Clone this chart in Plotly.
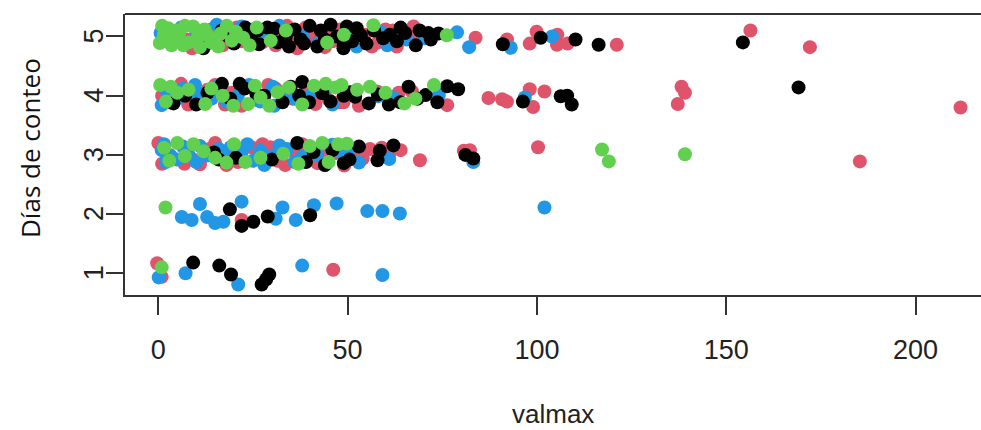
import plotly.graph_objects as go

# Data: (valmax, jittered day) per colour group
red_x = [7.5, 8.9, 20.7, 31.9, 31.0, 36.7, 38.9, 43.8, 54.6, 56.4, 63.0, 67.4, 69.6, 83.8, 92.1, 98.1, 99.9, 105.4, 105.3, 108.1, 121.1, 156.4, 172.1,
         3, 12, 25, 27.5, 34, 40, 46, 48, 58, 60, 45,
         14, 17, 22, 29, 35, 41, 44, 52, 62, 66,
         4.9, 6, 7.9, 17.6, 19.4, 26, 35.4, 41.5, 47.7, 48.9, 57.8, 63.5, 67.0, 76.3, 87.2, 90.8, 92.1, 98.1, 99, 102, 138.2, 139.1, 137.2, 211.9, 1, 13, 31,
         3.5, 10, 15, 22, 29, 33, 39, 45, 53,
         0, 1, 7.3, 6.9, 11, 18, 24.6, 26.5, 29.6, 33.5, 36, 40, 44, 47, 49.1, 52.3, 55.9, 59, 69.1, 80.7, 82.3, 100.3, 185.3, 15, 21,
         3, 9, 13.5, 20, 27.5, 31.5, 38, 42, 45, 54, 61, 64,
         22,
         -0.3, 0.9, 46.2]
red_y = [4.95, 4.8, 5.15, 5.05, 4.85, 4.8, 5.15, 4.85, 5.03, 4.83, 4.83, 5.17, 5.0, 4.98, 4.95, 4.88, 5.08, 5.03, 4.86, 4.88, 4.86, 5.10, 4.82,
         5.05, 4.92, 5.0, 4.9, 5.18, 4.95, 4.92, 5.12, 4.9, 5.12, 5.0,
         5.12, 4.85, 4.92, 5.05, 4.95, 5.05, 4.82, 4.95, 5.1, 4.97,
         4.03, 4.2, 3.85, 3.85, 4.05, 3.93, 3.95, 3.86, 3.89, 3.89, 4.07, 4.05, 4.07, 3.84, 3.96, 3.94, 3.9, 4.11, 3.81, 4.07, 4.15, 4.05, 3.86, 3.8, 4.0, 4.1, 4.12,
         3.88, 3.92, 4.18, 3.83, 4.18, 4.02, 4.1, 3.93, 3.83,
         3.2, 2.85, 3.05, 2.85, 2.84, 2.83, 3.13, 2.99, 3.13, 2.83, 3.05, 2.99, 3.13, 3.03, 2.82, 3.05, 3.1, 3.12, 2.91, 3.07, 3.08, 3.13, 2.89, 3.2, 2.88,
         3.0, 2.93, 3.1, 3.02, 3.18, 2.9, 3.18, 2.86, 2.95, 2.94, 3.03, 3.08,
         1.9,
         1.17, 0.94, 1.06]

blue_x = [0.6, 15.4, 19.5, 38, 49.8, 52.4, 58.6, 65.6, 70.4, 78.9, 82.1, 93.1, 104, 10, 28, 48, 22,
          6, 13, 25, 32, 42, 60.5,
          0.9, 9.7, 10.6, 14.1, 15.4, 30.2, 30.6, 74.1, 58, 96.8, 2, 5, 21, 27, 36, 44,
          6.5, 12, 18, 24, 33, 40, 46, 62,
          0.9, 3.3, 5, 8, 12.9, 18.5, 19.1, 22, 28, 30.4, 34, 38, 40.4, 44, 48, 50, 61, 83.2, 1.5, 11, 25,
          2, 6.5, 10, 16, 23.5, 27, 32, 36, 42, 46, 53,
          6.2, 8.8, 11, 12.9, 15, 17.2, 22, 31, 32.8, 36.3, 41.1, 47.1, 55.2, 59.2, 63.8, 102,
          0.1, 7.2, 21.1, 38, 59.2]
blue_y = [5.06, 5.2, 4.96, 5.0, 5.12, 4.83, 5.08, 4.95, 4.97, 5.07, 4.82, 4.81, 5.0, 5.08, 4.97, 4.97, 5.17,
          5.15, 4.88, 5.12, 5.18, 4.88, 4.85,
          3.84, 4.18, 3.98, 3.95, 4.15, 4.15, 3.83, 4.01, 3.99, 3.97, 4.1, 3.95, 4.0, 3.9, 3.95, 4.1,
          4.12, 4.02, 3.9, 4.18, 3.93, 4.0, 3.85, 3.97,
          3.08, 2.98, 2.92, 3.0, 2.99, 2.95, 3.13, 3.05, 2.83, 2.99, 3.1, 2.97, 3.08, 2.83, 3.06, 3.02, 2.93, 2.88, 3.18, 3.15, 2.9,
          2.88, 3.14, 2.88, 3.1, 3.18, 3.07, 3.16, 2.88, 3.0, 3.17, 2.87,
          1.95, 1.9, 2.17, 1.95, 1.85, 1.87, 2.21, 1.92, 2.11, 1.9, 2.15, 2.18, 2.05, 2.05, 2.01, 2.11,
          0.93, 1.0, 0.81, 1.13, 0.97]

black_x = [11.9, 16.8, 18.6, 24.5, 26.2, 26.6, 28.8, 30.6, 33.7, 34.5, 37.6, 42.9, 42.0, 45.5, 47.2, 49.0, 51.2, 49.8, 48.9, 52.4, 59.4, 61.2, 65.2, 71.3, 91.0, 101.0, 110.2, 116.3, 154.4, 40, 36, 55, 63, 68, 72,
           20, 23, 31.5, 38.5, 44, 53.5, 57, 64, 69, 74,
           4.0, 7.1, 16.8, 21.5, 22.8, 25.9, 28, 32.8, 37.2, 38, 39.8, 43.3, 49, 50.7, 52, 55.6, 60.9, 63.9, 66.1, 70.6, 73.7, 76.3, 79.2, 96.3, 106.3, 108, 109.2, 169.1,
           10, 13, 19, 35, 45.5, 58, 68.5,
           14.7, 16, 36.7, 39, 44, 49, 50.5, 57.9, 62.1, 81.1, 83.2, 46,
           20.5, 30, 41, 53, 58.5,
           18.9, 22, 25.1, 28.9, 40.1,
           9.2, 16.1, 19.2, 27.3, 28.5, 29.3]
black_y = [4.80, 5.1, 5.0, 5.02, 5.1, 4.87, 5.15, 5.13, 5.0, 4.83, 4.95, 5.1, 4.83, 5.2, 5.0, 4.85, 4.92, 5.17, 4.80, 5.14, 4.97, 5.03, 5.06, 5.06, 4.87, 4.98, 4.95, 4.86, 4.90, 5.18, 5.12, 4.88, 4.92, 4.85, 4.95,
           4.88, 5.15, 4.9, 4.88, 4.95, 5.02, 5.1, 5.15, 5.1, 5.05,
           3.87, 4.0, 4.2, 4.2, 4.12, 4.03, 4.0, 3.89, 4.0, 4.23, 3.89, 4.04, 4.0, 4.06, 3.98, 3.87, 3.85, 3.89, 4.15, 4.01, 3.89, 4.16, 4.11, 3.9, 3.99, 4.0, 3.85, 4.14,
           3.85, 4.05, 3.95, 4.15, 3.9, 4.02, 3.95,
           3.04, 2.92, 3.2, 2.88, 2.83, 2.86, 2.92, 2.91, 3.16, 3.0, 2.94, 3.08,
           2.95, 2.92, 3.05, 3.14, 3.07,
           2.08, 1.8, 1.87, 1.96, 1.98,
           1.18, 1.13, 0.98, 0.81, 0.9, 0.98]

green_x = [0.4, 2.6, 4.0, 4.9, 6.6, 9.2, 10.5, 12.2, 14.0, 15.8, 18.1, 19.4, 22.4, 24.1, 29.7, 33.7, 44.6, 49, 56.8, 76.2, 1.5, 3.5, 7, 11, 16.5, 26,
           1, 5.5, 8, 13, 20.5, 3,
           0.5, 3.3, 12.4, 19.8, 23.7, 25.5, 29.3, 34.5, 41.1, 44.2, 46.8, 48.4, 55.9, 60.0, 67.9, 72.8, 2, 8, 17,
           5, 14, 27, 31.5, 38, 52.5, 65,
           2.9, 1.5, 9.3, 20, 23, 37, 43.3, 47.5, 49.8, 117.2, 119, 139.1, 5, 15,
           7, 12, 18, 27, 33, 40, 45,
           1.9,
           0.9]
green_y = [4.89, 5.14, 4.97, 5.1, 4.85, 5.17, 5.0, 5.12, 4.9, 4.83, 5.18, 4.93, 4.98, 4.85, 4.93, 5.1, 4.9, 5.03, 5.19, 5.02, 5.02, 4.85, 5.18, 4.82, 5.05, 5.15,
           5.18, 5.05, 4.9, 5.02, 5.08, 4.95,
           4.18, 4.15, 3.86, 3.83, 3.86, 4.17, 3.83, 4.14, 4.17, 4.2, 4.14, 4.18, 4.15, 4.05, 3.95, 4.18, 3.9, 4.1, 4.0,
           4.05, 4.12, 3.97, 4.06, 3.85, 4.1, 3.87,
           2.9, 3.12, 3.18, 3.18, 2.88, 2.85, 3.2, 3.18, 3.19, 3.09, 2.89, 3.01, 3.2, 2.95,
           2.98, 3.06, 2.87, 2.95, 3.02, 3.15, 2.88,
           2.11,
           1.1]

x_ticks = [0, 50, 100, 150, 200]
y_ticks = [1, 2, 3, 4, 5]

fig = go.Figure()
for xs, ys, col in [(red_x, red_y, "#DF536B"), (blue_x, blue_y, "#2297E6"),
                    (black_x, black_y, "#000000"), (green_x, green_y, "#61D04F")]:
    fig.add_trace(go.Scatter(x=xs, y=ys, mode="markers",
                             marker=dict(color=col, size=14, line=dict(width=0)),
                             showlegend=False, cliponaxis=False))

axis_font = dict(family="Liberation Sans, Arial, sans-serif", size=27, color="#222")
annotations = [
    dict(text="valmax", xref="paper", yref="paper", x=(553 - 125) / 856, y=-(414 - 295) / 281,
         showarrow=False, xanchor="center", yanchor="middle",
         font=dict(family="Liberation Sans, Arial, sans-serif", size=26, color="#222")),
    dict(text="Días de conteo", xref="paper", yref="paper", x=-(125 - 30) / 856, y=(295 - 148) / 281,
         showarrow=False, xanchor="center", yanchor="middle", textangle=-90,
         font=dict(family="Open Sans, Noto Sans, sans-serif", size=26, color="#111")),
]
for v in y_ticks:
    annotations.append(dict(text=str(v), xref="paper", yref="y", x=-(125 - 94) / 856, y=v,
                            showarrow=False, xanchor="center", yanchor="middle", textangle=-90,
                            font=axis_font))

fig.update_layout(
    width=981, height=430,
    margin=dict(l=125, r=0, t=14, b=135),
    paper_bgcolor="white", plot_bgcolor="white",
    xaxis=dict(range=[-8.8, 217.3], tickvals=x_ticks, ticktext=[str(v) for v in x_ticks],
               showgrid=False, zeroline=False, showline=True, linecolor="#333", linewidth=2,
               ticks="outside", ticklen=18, tickwidth=2, tickcolor="#333",
               tickfont=axis_font, ticklabelstandoff=12),
    yaxis=dict(range=[0.633, 5.38], tickvals=y_ticks, showticklabels=False,
               showgrid=False, zeroline=False, showline=True, linecolor="#333", linewidth=2,
               ticks="outside", ticklen=17, tickwidth=2, tickcolor="#333"),
    shapes=[dict(type="line", xref="paper", yref="paper", x0=0, x1=1, y0=1, y1=1,
                 line=dict(color="#333", width=2))],
    annotations=annotations,
)

fig.write_html("out.html")
